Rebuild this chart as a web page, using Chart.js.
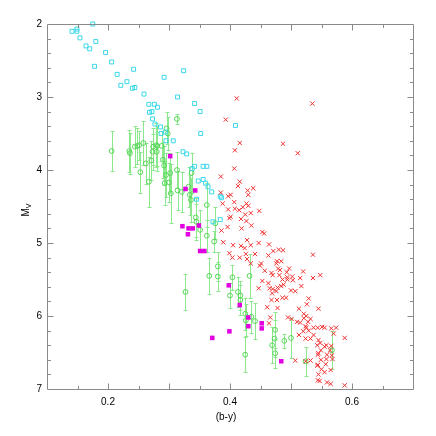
<!DOCTYPE html>
<html><head><meta charset="utf-8">
<script src="https://cdn.jsdelivr.net/npm/chart.js@4/dist/chart.umd.min.js"></script>
<style>html,body{margin:0;padding:0;background:#fff}#wrap{width:436px;height:436px}</style>
</head><body><div id="wrap"><canvas id="c" width="436" height="436"></canvas></div>
<script>
// ---- data ----
const xTickVals = [0.2, 0.4, 0.6];
const yTickVals = [2, 3, 4, 5, 6, 7];

const cyanX = [0.141,0.149,0.149,0.154,0.175,0.164,0.170,0.180,0.196,0.206,0.178,0.215,0.221,0.231,0.242,0.240,0.244,0.259,0.267,0.276,0.281,0.272,0.268,0.273,0.277,0.286,0.292,0.287,0.294,0.314,0.324,0.342,0.351,0.352,0.323,0.329,0.338,0.342,0.348,0.356,0.362,0.356,0.360,0.364,0.370,0.345,0.295,0.307,0.409,0.384,0.386,0.372,0.384];
const cyanY = [2.10,2.07,2.10,2.19,2.00,2.30,2.34,2.24,2.39,2.52,2.58,2.69,2.84,2.79,2.62,2.88,2.87,2.96,3.10,3.10,3.14,3.20,3.21,3.30,3.37,3.41,2.73,3.50,3.48,3.00,2.64,3.09,3.20,3.50,3.75,3.78,3.98,3.95,4.15,3.95,3.95,4.13,4.18,4.23,4.30,4.40,3.60,3.60,3.39,4.36,4.38,4.71,4.68];

const redX = [0.411,0.535,0.393,0.416,0.487,0.408,0.511,0.407,0.385,0.416,
0.413,0.438,0.429,0.385,0.401,0.397,0.430,0.388,0.407,0.427,
0.430,0.408,0.415,0.421,0.397,0.434,0.425,0.448,0.401,0.399,
0.418,0.427,0.396,0.419,0.435,0.386,0.453,0.456,0.428,0.389,
0.405,0.418,0.424,0.434,0.447,0.464,0.399,0.426,0.441,0.471,
0.480,0.487,0.536,0.404,0.416,0.428,0.463,0.451,0.477,0.484,
0.476,0.449,0.434,0.457,0.468,0.479,0.482,0.493,0.497,0.470,
0.481,0.486,0.494,0.494,0.503,0.502,0.515,0.520,0.536,0.548,
0.453,0.463,0.465,0.470,0.478,0.484,0.488,0.476,0.447,0.469,
0.486,0.492,0.468,0.477,0.478,0.461,0.500,0.507,0.517,0.529,
0.513,0.526,0.521,0.525,0.521,0.501,0.510,0.515,0.528,0.532,
0.545,0.495,0.466,0.464,0.524,0.529,0.520,0.525,0.537,0.544,
0.551,0.555,0.566,0.574,0.570,0.588,0.513,0.537,0.524,0.532,
0.545,0.548,0.543,0.555,0.558,0.566,0.549,0.564,0.545,0.544,
0.559,0.567,0.568,0.507,0.532,0.549,0.558,0.524,0.544,0.543,
0.557,0.550,0.565,0.555,0.545,0.544,0.547,0.559,0.565,0.588];
const redY = [3.02,3.09,3.31,3.63,3.64,3.73,3.77,3.98,4.09,4.16,
4.22,4.25,4.28,4.31,4.34,4.36,4.34,4.46,4.44,4.46,
4.49,4.53,4.55,4.51,4.54,4.59,4.61,4.56,4.64,4.66,
4.67,4.70,4.78,4.80,4.76,4.83,4.85,4.87,4.96,4.99,
5.03,5.04,5.07,5.03,5.00,5.02,5.14,5.15,5.15,5.11,
5.09,5.10,5.16,5.20,5.20,5.22,5.17,5.28,5.25,5.25,
5.28,5.31,5.28,5.38,5.41,5.35,5.37,5.40,5.35,5.44,
5.44,5.50,5.47,5.50,5.51,5.46,5.48,5.39,5.48,5.44,
5.52,5.55,5.62,5.63,5.61,5.59,5.57,5.66,5.62,5.69,
5.75,5.75,5.78,5.78,5.89,5.88,5.65,5.66,5.59,5.76,
5.90,5.84,5.97,6.00,6.03,6.04,6.08,6.09,6.08,6.04,
5.90,6.02,6.02,6.10,6.14,6.20,6.21,6.16,6.16,6.16,
6.15,6.16,6.17,6.16,6.24,6.30,6.26,6.26,6.31,6.31,
6.33,6.37,6.40,6.42,6.40,6.41,6.47,6.47,6.51,6.53,
6.53,6.54,6.59,6.61,6.61,6.60,6.59,6.62,6.67,6.68,
6.66,6.73,6.74,6.77,6.80,6.88,6.89,6.91,6.93,6.95];

const greenX = [0.206,0.235,0.236,0.244,0.248,0.251,0.253,0.258,0.262,0.267,
0.271,0.273,0.274,0.279,0.280,0.281,0.288,0.290,0.292,0.293,
0.295,0.296,0.298,0.300,0.302,0.303,0.313,0.313,0.314,0.321,
0.332,0.334,0.336,0.337,0.344,0.345,0.351,0.362,0.362,0.374,
0.380,0.380,0.366,0.327,0.376,0.400,0.404,0.413,0.417,0.417,
0.432,0.425,0.426,0.435,0.441,0.425,0.469,0.473,0.474,0.474,
0.489,0.500,0.524,0.567];
const greenY = [3.74,3.74,3.77,3.68,3.67,3.66,4.03,3.63,3.91,4.16,
3.87,3.75,3.68,3.66,3.75,3.67,3.67,3.86,3.94,4.18,
4.07,3.43,3.50,4.17,4.04,4.32,3.30,4.00,4.28,4.30,
4.23,4.34,4.41,4.04,4.65,4.71,4.82,4.48,4.90,4.98,
5.32,5.46,5.45,5.67,4.73,5.72,5.47,5.67,5.72,5.78,
5.45,5.97,6.06,6.01,6.07,6.53,6.40,6.31,6.19,6.51,
6.34,6.30,6.62,6.47];
const greenErr = [0.28,0.29,0.28,0.28,0.25,0.20,0.28,0.30,0.28,0.34,
0.27,0.25,0.25,0.30,0.27,0.27,0.20,0.25,0.27,0.30,
0.30,0.22,0.22,0.27,0.27,0.40,0.07,0.25,0.27,0.27,
0.27,0.27,0.30,0.27,0.27,0.25,0.27,0.30,0.22,0.15,
0.20,0.20,0.25,0.25,0.22,0.17,0.17,0.20,0.20,0.20,
0.30,0.22,0.22,0.22,0.25,0.24,0.25,0.25,0.25,0.20,
0.10,0.27,0.20,0.26];

const magX = [0.302,0.327,0.343,0.322,0.331,0.332,0.339,0.349,0.351,0.358,0.371,0.398,0.399,0.416,0.430,0.430,0.452,0.452,0.484];
const magY = [3.81,4.26,4.28,4.77,4.88,4.80,4.80,4.76,5.11,5.11,6.30,5.58,6.21,5.85,6.02,6.14,6.10,6.17,6.62];

// ---- build ----
const pts = (xs, ys) => xs.map((v, i) => ({x: v, y: ys[i]}));
const FONT = '"Liberation Sans", Arial, Helvetica, sans-serif';
const FRAME = '#8a8a8a';

const decor = {
  id: 'decor',
  beforeDatasetsDraw(chart) {
    const {ctx, chartArea: ca, scales: {x, y}} = chart;
    ctx.save();
    ctx.beginPath(); ctx.rect(ca.left, ca.top, ca.right - ca.left, ca.bottom - ca.top); ctx.clip();
    ctx.strokeStyle = 'rgb(140,232,140)';
    ctx.lineWidth = 1;
    ctx.beginPath();
    greenX.forEach((gx, i) => {
      const px = Math.round(x.getPixelForValue(gx)) + 0.5;
      const y1 = Math.round(y.getPixelForValue(greenY[i] - greenErr[i])) + 0.5;
      const y2 = Math.round(y.getPixelForValue(greenY[i] + greenErr[i])) + 0.5;
      ctx.moveTo(px, y1); ctx.lineTo(px, y2);
      ctx.moveTo(px - 2, y1); ctx.lineTo(px + 2, y1);
      ctx.moveTo(px - 2, y2); ctx.lineTo(px + 2, y2);
    });
    ctx.stroke();
    ctx.restore();
  },
  afterDraw(chart) {
    const {ctx, chartArea: ca, scales: {x, y}} = chart;
    ctx.save();
    ctx.strokeStyle = FRAME;
    ctx.lineWidth = 1;
    const L = Math.round(ca.left) + 0.5, R = Math.round(ca.right) + 0.5;
    const T = Math.round(ca.top) + 0.5, B = Math.round(ca.bottom) + 0.5;
    ctx.beginPath();
    ctx.rect(L, T, R - L, B - T);
    for (let k = 3; k <= 13; k++) {
      const px = Math.round(x.getPixelForValue(k * 0.05)) + 0.5;
      const len = (k % 2 === 0) ? 6 : 3.5;
      ctx.moveTo(px, B); ctx.lineTo(px, B - len);
      ctx.moveTo(px, T); ctx.lineTo(px, T + len);
    }
    for (let k = 1; k < 25; k++) {
      const py = Math.round(y.getPixelForValue(2 + k * 0.2)) + 0.5;
      const len = (k % 5 === 0) ? 6 : 3.5;
      ctx.moveTo(L, py); ctx.lineTo(L + len, py);
      ctx.moveTo(R, py); ctx.lineTo(R - len, py);
    }
    ctx.stroke();
    // axis titles
    ctx.fillStyle = '#000';
    ctx.font = '10px ' + FONT;
    ctx.textAlign = 'center';
    ctx.textBaseline = 'middle';
    ctx.fillText('(b-y)', ca.left + 179, 417);
    ctx.translate(26, 210);
    ctx.rotate(-Math.PI / 2);
    ctx.textAlign = 'left';
    const wM = ctx.measureText('M').width;
    ctx.font = '7px ' + FONT;
    const wV = ctx.measureText('V').width;
    const start = -(wM + wV) / 2;
    ctx.font = '10px ' + FONT;
    ctx.fillText('M', start, 0);
    ctx.font = '7px ' + FONT;
    ctx.fillText('V', start + wM, 3);
    ctx.restore();
  }
};

new Chart(document.getElementById('c'), {
  type: 'scatter',
  data: {
    datasets: [
      {label: 'mag', data: pts(magX, magY), order: 0, pointStyle: 'rect', pointRadius: 3.2,
       backgroundColor: '#e000e0', borderColor: '#e000e0', borderWidth: 0},
      {label: 'red', data: pts(redX, redY), order: 1, pointStyle: 'crossRot', pointRadius: 3,
       borderColor: '#f03030', borderWidth: 1},
      {label: 'cyan', data: pts(cyanX, cyanY), order: 2, pointStyle: 'rect', pointRadius: 2.8, clip: false,
       backgroundColor: 'rgba(0,0,0,0)', borderColor: '#3cd8ea', borderWidth: 1},
      {label: 'green', data: pts(greenX, greenY), order: 3, pointStyle: 'circle', pointRadius: 2.4,
       backgroundColor: 'rgba(0,0,0,0)', borderColor: '#55d655', borderWidth: 1}
    ]
  },
  options: {
    responsive: false,
    animation: false,
    devicePixelRatio: 1,
    layout: {padding: {top: 24, right: 23, bottom: 0, left: 0}},
    plugins: {legend: {display: false}, tooltip: {enabled: false}},
    scales: {
      x: {
        type: 'linear', min: 0.1, max: 0.7,
        grid: {display: false, drawTicks: false}, border: {display: false},
        ticks: {padding: 7, color: '#000', font: {size: 10, family: FONT}, autoSkip: false,
                callback: v => Number(v).toFixed(1)},
        afterBuildTicks: s => { s.ticks = xTickVals.map(v => ({value: v})); },
        afterFit: s => { s.height = 47; }
      },
      y: {
        type: 'linear', min: 2, max: 7, reverse: true,
        grid: {display: false, drawTicks: false}, border: {display: false},
        ticks: {padding: 5, color: '#000', font: {size: 10, family: FONT}, autoSkip: false,
                callback: v => String(v)},
        afterBuildTicks: s => { s.ticks = yTickVals.map(v => ({value: v})); },
        afterFit: s => { s.width = 47; }
      }
    }
  },
  plugins: [decor]
});
</script></body></html>
